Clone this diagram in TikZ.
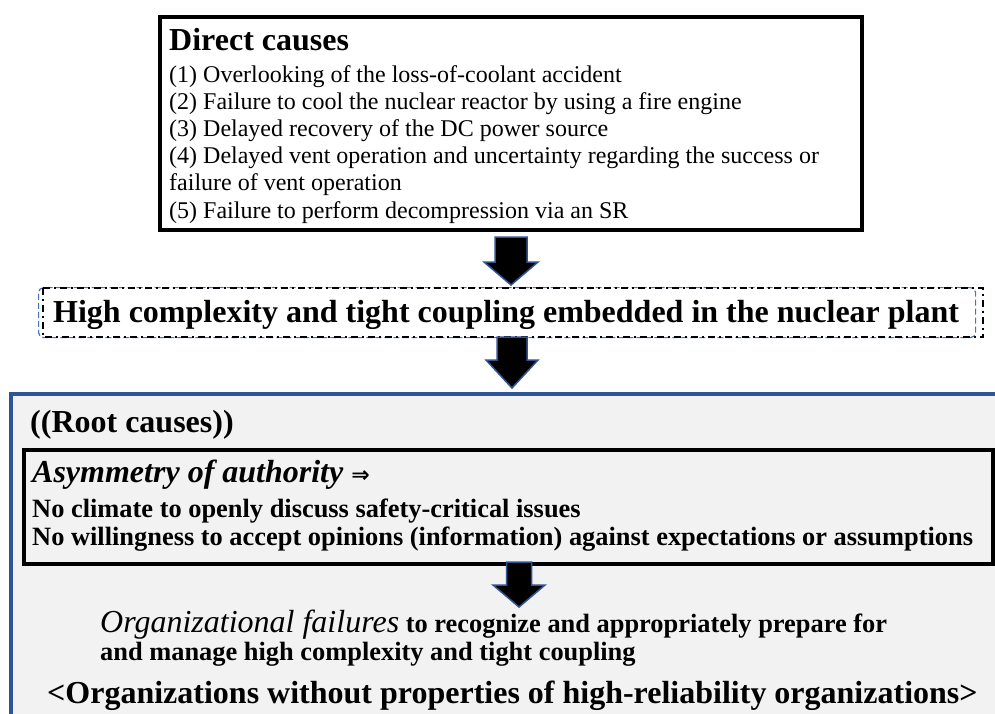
\documentclass[tikz,border=0pt]{standalone}
\usepackage{fontspec}
\setmainfont{Liberation Serif}
\newfontfamily\symbolfont{DejaVu Sans}
\usetikzlibrary{calc}
\definecolor{frameblue}{RGB}{47,85,151}
\definecolor{dashblue}{RGB}{68,114,196}
\definecolor{panelgray}{RGB}{242,242,242}
\tikzset{cause line/.style={
  anchor=base west,
  inner sep=0pt,
  font=\fontsize{24}{28}\selectfont
  }
}
\tikzset{head line/.style={
  anchor=base west,
  inner sep=0pt,
  font=\fontsize{32}{36}\selectfont\bfseries
  }
}
\tikzset{root line/.style={
  anchor=base west,
  inner sep=0pt,
  font=\fontsize{26.4}{30}\selectfont\bfseries
  }
}
\tikzset{heavy box/.style={
  draw=black,
  line width=3.5pt,
  inner sep=0pt,
  anchor=north west
  }
}
\tikzset{block arrow/.style={
  fill=black,
  draw=frameblue,
  line width=1.5pt
  }
}

\begin{document}
\begin{tikzpicture}[x=1pt,y=-1pt]
    \useasboundingbox (0,0) rectangle (995,713);
    \clip (0,0) rectangle (995,713);
    \fill[white] (0,0) rectangle (995,713);

    % direct causes
    \node[heavy box,minimum width=702pt,minimum height=213pt] (direct) at (158,15) {};
    \node[head line] (dtitle) at (169,50) {Direct causes};
    \foreach \t [count=\n] in {{(1) Overlooking of the loss-of-coolant accident},
        {(2) Failure to cool the nuclear reactor by using a fire engine},
        {(3) Delayed recovery of the DC power source},
        {(4) Delayed vent operation and uncertainty regarding the success or},
        {failure of vent operation},
        {(5) Failure to perform decompression via an SR}}
        \node[cause line] (D\n) at (169,{82+27.2*(\n-1)}) {\t};

    % complexity and coupling
    \node[draw=dashblue,line width=1.2pt,dash pattern=on 6pt off 3pt,rounded corners=5pt,
        minimum width=937pt,minimum height=50pt,inner sep=0pt,anchor=north west] (coupling) at (38,287) {};
    \draw[black,line width=2.4pt,dash pattern=on 7pt off 4pt on 2pt off 4pt]
        ($(coupling.north west)+(5,1)$) rectangle ($(coupling.south east)+(7,-1)$);
    \node[head line] (ctext) at (53,322) {High complexity and tight coupling embedded in the nuclear plant};

    % root causes
    \node[draw=frameblue,fill=panelgray,line width=3.5pt,inner sep=0pt,anchor=north west,
        minimum width=1000pt,minimum height=340pt] (root) at (9,392) {};
    \node[head line] (rtitle) at (30,432) {((Root causes))};
    \node[heavy box,minimum width=969pt,minimum height=114pt] (authority) at (22,448) {};
    \node[head line,font=\fontsize{32}{36}\selectfont\bfseries\itshape] (A1) at (32,482)
        {Asymmetry of authority {\symbolfont\upshape\fontsize{22}{24}\selectfont ⇒}};
    \node[root line] (A2) at (32,517) {No climate to openly discuss safety-critical issues};
    \node[root line] (A3) at (32,545) {No willingness to accept opinions (information) against expectations or assumptions};

    \node[anchor=base west,inner sep=0pt] (O1) at (100,632)
        {{\fontsize{32}{36}\selectfont\itshape Organizational failures}%
         {\fontsize{26.4}{30}\selectfont\bfseries\ to recognize and appropriately prepare for}};
    \node[root line] (O2) at (100,660) {and manage high complexity and tight coupling};
    \node[head line] (O3) at (47,703) {<Organizations without properties of high-reliability organizations>};

    % block arrows
    \foreach \cx/\ya/\yb/\yc/\sw/\hw in {511/237/262/285/16/27,512/337/360/388/15/26,519/562/585/607/12.5/26}
        \draw[block arrow] (\cx-\sw,\ya) -- (\cx+\sw,\ya) -- (\cx+\sw,\yb) -- (\cx+\hw,\yb)
            -- (\cx,\yc) -- (\cx-\hw,\yb) -- (\cx-\sw,\yb) -- cycle;

\end{tikzpicture}
\end{document}
